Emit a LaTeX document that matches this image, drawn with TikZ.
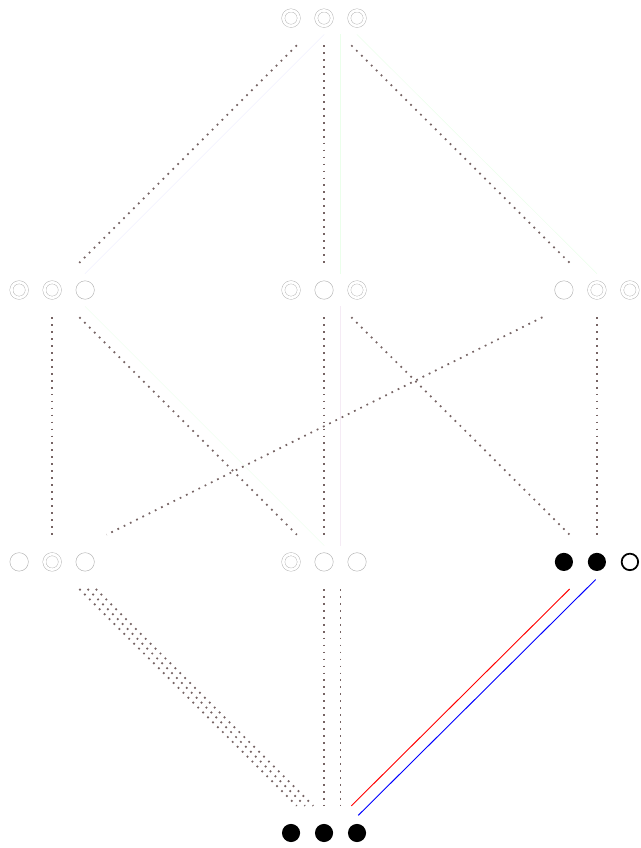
\documentclass[tikz,border=0pt]{standalone}
\usepackage{tikz}
\usetikzlibrary{calc}
\definecolor{dotgray}{RGB}{118,100,100}
\newcommand{\hop}[4][0.1]{\draw[#2] ($(#3)!#1!(#4)$) -- ($(#4)!#1!(#3)$);}

\begin{document}
\begin{tikzpicture}[
  sg/.style={circle,draw=gray!60,minimum size=5.6mm,inner sep=0pt},
  db/.style={circle,draw=gray!60,double,double distance=0.8mm,minimum size=4.7mm,inner sep=0pt},
  bk/.style={circle,fill=black,minimum size=5.5mm,inner sep=0pt},
  bo/.style={circle,draw=black,line width=1.5pt,minimum size=5mm,inner sep=0pt},
  ed/.style={draw=dotgray,line width=1.5pt,dash pattern=on 1.5pt off 4.5pt},
  fnt/.style={line width=0.4pt,draw=#1!8}
]
\useasboundingbox (0,0) rectangle (19.42,25.7);
\foreach \g/\x/\y/\sa/\sb/\sc in {t/9.82/25.15/db/db/db, a/1.58/16.91/db/db/sg,
    b/9.82/16.91/db/sg/db, c/18.09/16.91/sg/db/db, d/1.58/8.67/sg/db/sg,
    e/9.82/8.67/db/sg/sg, f/18.09/8.67/bk/bk/bo, z/9.82/0.455/bk/bk/bk}{
  \node[\sa] (\g1) at (\x-1,\y) {};
  \node[\sb] (\g2) at (\x,\y) {};
  \node[\sc] (\g3) at (\x+1,\y) {};
  \coordinate (\g22) at (\x+0.25,\y);
  \coordinate (\g25) at (\x+0.5,\y);
}
% faint layer
\hop[0.06]{fnt=blue}{t25}{a25}
\hop[0.06]{fnt=green}{t25}{b25}
\hop[0.06]{fnt=green}{t25}{c25}
\hop[0.06]{fnt=violet}{b25}{e25}
\hop[0.06]{fnt=green}{a25}{e25}
% dotted edges
\hop{ed}{t2}{a2} \hop{ed}{t2}{b2} \hop{ed}{t2}{c2}
\hop{ed}{a2}{d2} \hop{ed}{a2}{e2} \hop{ed}{b2}{e2}
\hop{ed}{b2}{f2} \hop{ed}{c2}{d2} \hop{ed}{c2}{f2}
\hop{ed}{d2}{z2} \hop{ed}{d22}{z22} \hop{ed}{d25}{z25}
\hop{ed}{e2}{z2} \hop{ed}{e25}{z25}
\hop{red,line width=0.8pt}{f2}{z2}
\hop[0.065]{blue,line width=0.8pt}{f25}{z25}
\end{tikzpicture}
\end{document}
